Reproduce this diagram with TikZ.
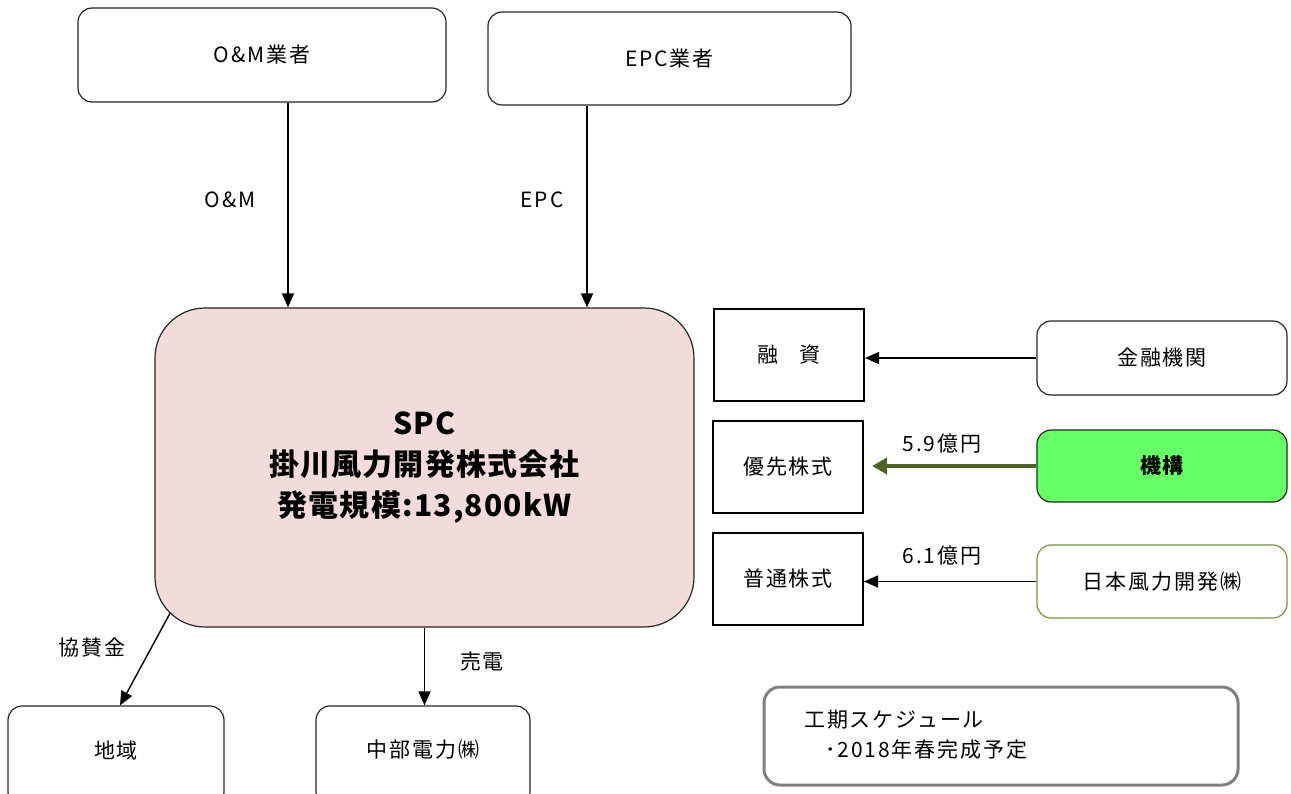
\documentclass[tikz,border=0pt]{standalone}
\usepackage{fontspec}
\setmainfont{Noto Sans CJK JP}[LetterSpace=9]
\newfontfamily\jpb{Noto Sans CJK JP}[LetterSpace=4]
\usetikzlibrary{arrows.meta}
\definecolor{spcfill}{HTML}{F2DCDB}
\definecolor{kikofill}{HTML}{66FF66}
\definecolor{olivearr}{HTML}{4F6228}
\definecolor{olivebd}{HTML}{77933C}
\definecolor{grayb}{HTML}{7F7F7F}
\definecolor{bd}{HTML}{262626}
\tikzset{
  rbox/.style={draw=bd,line width=1.2pt,rounded corners=14pt,fill=white,font=\fontsize{21}{24}\selectfont},
  sbox/.style={draw=black,line width=2pt,fill=white,font=\fontsize{21}{24}\selectfont},
  arr/.style={-{Triangle[length=14pt,width=12pt]},line width=1.4pt,black},
  lbl/.style={font=\fontsize{21}{24}\selectfont,inner sep=0pt},
}
\begin{document}
\begin{tikzpicture}[x=1pt,y=-1pt]
\useasboundingbox (0,0) rectangle (1291,793);
% top boxes
\node[rbox,minimum width=368pt,minimum height=94pt] (om) at (262,55) {O\&M業者};
\node[rbox,minimum width=363pt,minimum height=93pt] (epc) at (669.5,58.5) {EPC業者};
% SPC
\node[draw=bd,line width=1.2pt,rounded corners=50pt,fill=spcfill,minimum width=539pt,minimum height=319pt,align=center,font=\jpb\bfseries\fontsize{30}{41}\selectfont] (spc) at (424.5,467.5) {SPC\\掛川風力開発株式会社\\発電規模:13,800kW};
% square boxes
\node[sbox,minimum width=150pt,minimum height=92pt] (yushi) at (789,355) {融\hspace{1em}資};
\node[sbox,minimum width=150pt,minimum height=92pt] (yusen) at (788,467) {優先株式};
\node[sbox,minimum width=150pt,minimum height=92pt] (futsu) at (788,579) {普通株式};
% right boxes
\node[rbox,minimum width=250pt,minimum height=74pt] (kinyu) at (1162,358) {金融機関};
\node[rbox,fill=kikofill,minimum width=250pt,minimum height=72pt,font=\jpb\bfseries\fontsize{21}{24}\selectfont] (kiko) at (1162,466) {機構};
\node[rbox,draw=olivebd,minimum width=250pt,minimum height=73pt] (nihon) at (1162,581.5) {日本風力開発㈱};
% bottom boxes
\node[rbox,minimum width=216pt,minimum height=100pt] (chiiki) at (116,756) {};
\node[lbl] (chiikit) at (116,750) {地域};
\node[rbox,minimum width=214pt,minimum height=100pt] (chubu) at (423,756) {};
\node[lbl] (chubut) at (423,750) {中部電力㈱};
% schedule
\node[draw=grayb,line width=3pt,rounded corners=16pt,minimum width=474pt,minimum height=98pt] (sched) at (1001,736) {};
\node[lbl,anchor=west] (sched1) at (804,720) {工期スケジュール};
\node[lbl,anchor=west] (sched2) at (825,750) {･2018年春完成予定};
% arrows
\draw[arr] ([xshift=26pt]om.south) -- ([xshift=26pt]om.south |- spc.north);
\draw[arr] ([xshift=-82.5pt]epc.south) -- ([xshift=-82.5pt]epc.south |- spc.north);
\draw[arr] (kinyu.west) -- (kinyu.west -| yushi.east);
\draw[-{Triangle[length=15pt,width=16pt]},line width=4pt,olivearr,shorten >=8pt] (kiko.west) -- (kiko.west -| yusen.east);
\draw[arr] (nihon.west) -- (nihon.west -| futsu.east);
\draw[arr] ([shift={(16,-15)}]spc.south west) -- ([xshift=4pt]chiiki.north);
\draw[arr] (spc.south) -- (spc.south |- chubu.north);
% labels
\node[lbl] (l1) at (230,200) {O\&M};
\node[lbl] (l2) at (542,200) {EPC};
\node[lbl] (l3) at (942,444) {5.9億円};
\node[lbl] (l4) at (942,556) {6.1億円};
\node[lbl] (l5) at (92,648) {協賛金};
\node[lbl] (l6) at (482,662) {売電};
\end{tikzpicture}
\end{document}
